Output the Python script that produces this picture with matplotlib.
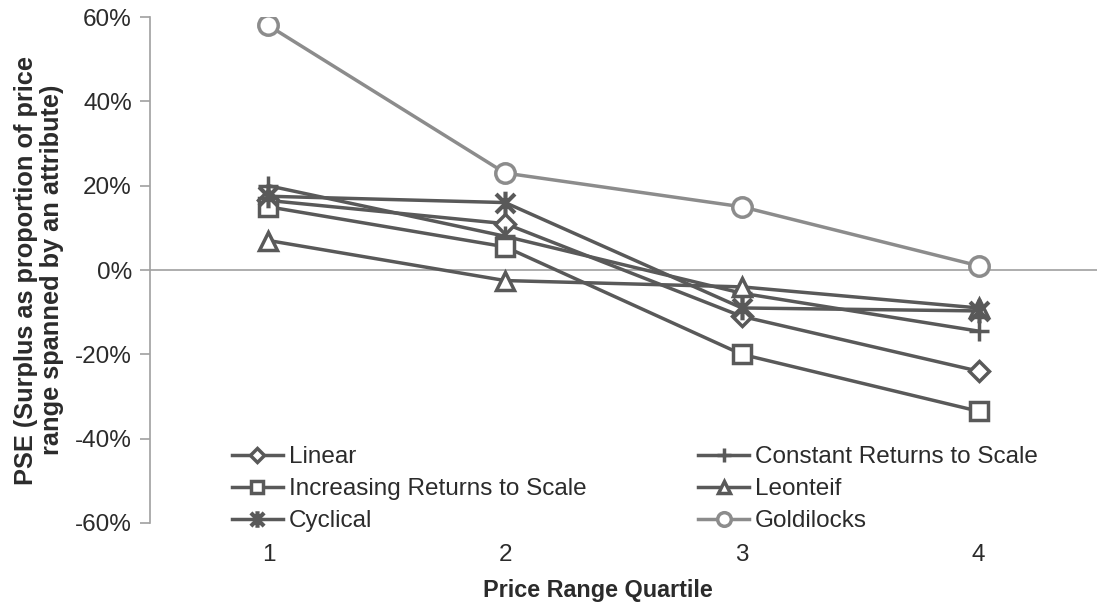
import matplotlib.pyplot as plt
from matplotlib.path import Path
from matplotlib.ticker import FuncFormatter

plt.rcParams['font.family'] = ['Liberation Sans', 'DejaVu Sans']

# Data (PSE in percent)
quartiles = [1, 2, 3, 4]
linear = [16.5, 11, -11, -24]
constant_rts = [20, 8, -5.5, -14.5]
increasing_rts = [15, 5.5, -20, -33.5]
leontief = [7, -2.5, -4, -9]
cyclical = [17.5, 16, -9, -9.7]
goldilocks = [58, 23, 15, 1]

dark = '#595959'
light = '#8c8c8c'
text_col = '#2b2b2b'

# Excel-style star marker: an x with a vertical bar
star = Path([(-1, -1), (1, 1), (-1, 1), (1, -1), (0, -1.25), (0, 1.25)],
            [Path.MOVETO, Path.LINETO, Path.MOVETO, Path.LINETO, Path.MOVETO, Path.LINETO])

fig = plt.figure(figsize=(10.99, 6.03), dpi=100)
ax = fig.add_axes([0.1365, 0.1327, 0.8617, 0.839])

common = dict(linewidth=2.5, markeredgewidth=2.5)
h_lin, = ax.plot(quartiles, linear, color=dark, marker='D', markersize=10,
                 markerfacecolor='white', markeredgecolor=dark, label='Linear', **common)
h_con, = ax.plot(quartiles, constant_rts, color=dark, marker='+', markersize=15,
                 markeredgecolor=dark, label='Constant Returns to Scale', **common)
h_inc, = ax.plot(quartiles, increasing_rts, color=dark, marker='s', markersize=13,
                 markerfacecolor='white', markeredgecolor=dark,
                 label='Increasing Returns to Scale', **common)
h_leo, = ax.plot(quartiles, leontief, color=dark, marker='^', markersize=13,
                 markerfacecolor='white', markeredgecolor=dark, label='Leonteif', **common)
h_cyc, = ax.plot(quartiles, cyclical, color=dark, marker=star, markersize=17,
                 markerfacecolor='none', markeredgecolor=dark, label='Cyclical',
                 linewidth=2.5, markeredgewidth=3)
h_gol, = ax.plot(quartiles, goldilocks, color=light, marker='o', markersize=14,
                 markerfacecolor='white', markeredgecolor=light, label='Goldilocks', **common)

ax.axhline(0, color='#a0a0a0', linewidth=1.2, zorder=0)

ax.set_xlim(0.5, 4.5)
ax.set_ylim(-60, 60)
ax.set_yticks(range(-60, 61, 20))
ax.yaxis.set_major_formatter(FuncFormatter(lambda v, p: f'{v:.0f}%'))
ax.set_xticks(quartiles)

for side in ['top', 'right', 'bottom']:
    ax.spines[side].set_visible(False)
ax.spines['left'].set_color('#a0a0a0')
ax.spines['left'].set_linewidth(1.2)
ax.tick_params(axis='y', length=7, width=1.2, color='#a0a0a0', labelsize=17.5,
               labelcolor=text_col, pad=6)
ax.tick_params(axis='x', length=0, labelsize=17.5, labelcolor=text_col, pad=15)

ax.set_xlabel('Price Range Quartile', fontsize=16.8, fontweight='bold', color=text_col)
ax.xaxis.set_label_coords(0.473, -0.11)
ax.set_ylabel('PSE (Surplus as proportion of price\nrange spanned by an attribute)',
              fontsize=18.3, fontweight='bold', color=text_col, linespacing=1.12)
ax.yaxis.set_label_coords(-0.091, 0.5)

handles = [h_lin, h_inc, h_cyc, h_con, h_leo, h_gol]
ax.legend(handles=handles, labels=[h.get_label() for h in handles], ncol=2,
          loc='lower left', bbox_to_anchor=(0.063, -0.062), frameon=False,
          fontsize=17.5, handlelength=2.1, handletextpad=0.25, columnspacing=4.6,
          labelspacing=0.42, markerscale=0.7, labelcolor=text_col)

plt.savefig('out.png', dpi=100)
